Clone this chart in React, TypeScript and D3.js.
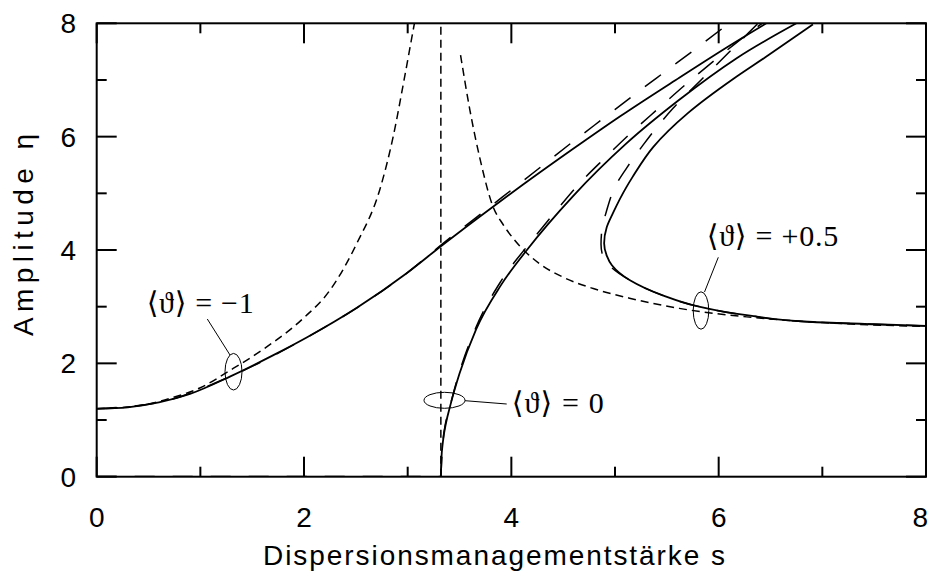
import React from "react";
import * as d3 from "d3";

// ---------- data ----------
const xTicksMajor = [0, 2, 4, 6, 8];
const xTicksMinor = [1, 3, 5, 7];
const yTicksMajor = [0, 2, 4, 6, 8];
const yTicksMinor = [1, 3, 5, 7];

// <theta> = -1, numerical (solid)
const sM1 = [0, 0.3, 0.6, 0.9, 1.29, 1.7, 2.03, 2.51, 2.99, 3.33, 3.82, 4.11, 4.6, 5.05, 5.62, 6.1, 6.46];
const eM1 = [1.2, 1.225, 1.31, 1.46, 1.77, 2.14, 2.46, 2.98, 3.59, 4.08, 4.76, 5.15, 5.79, 6.36, 7.04, 7.6, 8.0];
// <theta> = -1, approximation (long dashes)
const sM1Long = [0, 0.6, 1.29, 2.03, 2.51, 2.99, 3.33, 3.82, 4.1, 4.6, 4.9, 5.2, 5.5, 5.8, 6.1];
const eM1Long = [1.2, 1.31, 1.77, 2.46, 2.98, 3.59, 4.1, 4.8, 5.2, 5.92, 6.34, 6.76, 7.17, 7.58, 8.0];
// <theta> = -1, asymptotic (short dashes)
const sM1Short = [0, 0.4, 0.74, 1.0, 1.29, 1.64, 1.99, 2.25, 2.51, 2.73, 2.86, 2.96, 3.04, 3.065];
const eM1Short = [1.2, 1.25, 1.4, 1.57, 1.88, 2.29, 2.79, 3.29, 4.12, 5.06, 6.0, 6.95, 7.75, 8.0];

// <theta> = 0, numerical (solid)
const s0 = [3.32, 3.325, 3.34, 3.37, 3.41, 3.5, 3.66, 3.9, 4.15, 4.6, 5.11, 5.62, 6.17, 6.75];
const e0 = [0, 0.3, 0.62, 0.95, 1.25, 1.82, 2.6, 3.38, 4.0, 4.96, 5.88, 6.65, 7.38, 8.0];
// <theta> = 0, approximation (long dashes)
const s0Long = [3.32, 3.34, 3.41, 3.5, 3.66, 3.9, 4.15, 4.4, 4.63, 4.9, 5.15, 5.42, 5.7, 5.97, 6.2, 6.42];
const e0Long = [0, 0.62, 1.25, 1.85, 2.64, 3.45, 4.06, 4.62, 5.12, 5.62, 6.06, 6.5, 6.95, 7.36, 7.7, 8.0];
// <theta> = 0, asymptote (short dashes, vertical)
const s0Vert = [3.32, 3.32];
const e0Vert = [0, 8];
// trivial branch on eta = 0 (long dashes)
const sZero = [0, 3.32];
const eZero = [0, 0];

// <theta> = +0.5, numerical (solid), ordered by eta
const eP05 = [2.66, 2.69, 2.73, 2.85, 3.01, 3.2, 3.47, 3.73, 3.9, 4.12, 4.4, 4.65, 5.11, 5.29, 5.82, 6.41, 7.03, 7.4, 7.98];
const sP05 = [8.0, 7.5, 6.91, 6.27, 5.79, 5.46, 5.14, 4.97, 4.92, 4.895, 4.92, 4.98, 5.11, 5.17, 5.37, 5.7, 6.15, 6.45, 6.91];
// <theta> = +0.5, approximation (long dashes), ordered by eta
const eP05Long = [2.66, 2.69, 2.73, 2.85, 3.01, 3.2, 3.47, 3.7, 3.85, 4.1, 4.3, 4.7, 5.15, 5.44, 5.85, 6.27, 6.5, 7.0, 7.47, 8.0];
const sP05Long = [8.0, 7.5, 6.91, 6.27, 5.79, 5.46, 5.14, 4.96, 4.89, 4.865, 4.87, 4.92, 5.01, 5.11, 5.27, 5.45, 5.56, 5.83, 6.09, 6.38];
// <theta> = +0.5, asymptotic (short dashes)
const sP05Short = [3.51, 3.6, 3.7, 3.82, 3.92, 4.02, 4.27, 4.5, 4.79, 5.14, 5.62, 6.27, 7.0, 8.0];
const eP05Short = [7.44, 6.47, 5.59, 4.78, 4.45, 4.2, 3.76, 3.52, 3.32, 3.15, 2.97, 2.82, 2.72, 2.65];

// labels
const labelM1 = "⟨ϑ⟩ = −1";
const label0 = "⟨ϑ⟩ = 0";
const labelP05 = "⟨ϑ⟩ = +0.5";
const xTitle = "Dispersionsmanagementstärke s";
const yTitle = "Amplitude η";

// ---------- layout ----------
const W = 929;
const H = 571;
const x = d3.scaleLinear().domain([0, 8]).range([96.7, 926]);
const y = d3.scaleLinear().domain([0, 8]).range([476.7, 23.3]);

const zip = (a: number[], b: number[]) => a.map((v, i) => [v, b[i]] as [number, number]);
const lineX = d3
  .line<[number, number]>()
  .x((d) => x(d[0]))
  .y((d) => y(d[1]))
  .curve(d3.curveMonotoneX);
const lineY = d3
  .line<[number, number]>()
  .x((d) => x(d[0]))
  .y((d) => y(d[1]))
  .curve(d3.curveMonotoneY);

const SHORT = "8,5";
const LONG = "20,18";

export default function App() {
  const curves: { d: string; dash?: string; w: number }[] = [
    { d: lineX(zip(sZero, eZero)) || "", dash: LONG, w: 2 },
    { d: lineX(zip(sM1Short, eM1Short)) || "", dash: SHORT, w: 1.5 },
    { d: d3.line()(zip(s0Vert, e0Vert).map((p) => [x(p[0]), y(p[1])] as [number, number])) || "", dash: SHORT, w: 1.5 },
    { d: lineX(zip(sP05Short, eP05Short)) || "", dash: SHORT, w: 1.5 },
    { d: lineX(zip(sM1Long, eM1Long)) || "", dash: LONG, w: 1.5 },
    { d: lineX(zip(s0Long, e0Long)) || "", dash: LONG, w: 1.5 },
    { d: lineY(zip(sP05Long, eP05Long)) || "", dash: LONG, w: 1.5 },
    { d: lineX(zip(sM1, eM1)) || "", w: 1.8 },
    { d: lineX(zip(s0, e0)) || "", w: 1.8 },
    { d: lineY(zip(sP05, eP05)) || "", w: 1.8 },
  ];

  const [x0, x1] = x.range();
  const [y0, y1] = y.range();
  const serif = "'Liberation Serif', 'Times New Roman', 'DejaVu Serif', serif";
  const sans = "'Liberation Sans', Arial, Helvetica, sans-serif";

  return (
    <svg
      width={W}
      height={H}
      viewBox={`0 0 ${W} ${H}`}
      style={{ position: "absolute", left: 0, top: 0, background: "#fff" }}
    >
      <defs>
        <clipPath id="plot">
          <rect x={x0} y={y1} width={x1 - x0} height={y0 - y1} />
        </clipPath>
      </defs>

      <g clipPath="url(#plot)">
        {curves.map((c, i) => (
          <path key={i} d={c.d} fill="none" stroke="#000" strokeWidth={c.w} strokeDasharray={c.dash} />
        ))}
      </g>

      {/* frame */}
      <rect x={x0} y={y1} width={x1 - x0} height={y0 - y1} fill="none" stroke="#000" strokeWidth={2} />

      {/* ticks */}
      {xTicksMajor.map((t) => (
        <g key={"xM" + t}>
          <line x1={x(t)} x2={x(t)} y1={y0} y2={y0 - 20} stroke="#000" strokeWidth={2} />
          <line x1={x(t)} x2={x(t)} y1={y1} y2={y1 + 20} stroke="#000" strokeWidth={2} />
        </g>
      ))}
      {xTicksMinor.map((t) => (
        <g key={"xm" + t}>
          <line x1={x(t)} x2={x(t)} y1={y0} y2={y0 - 10} stroke="#000" strokeWidth={2} />
          <line x1={x(t)} x2={x(t)} y1={y1} y2={y1 + 10} stroke="#000" strokeWidth={2} />
        </g>
      ))}
      {yTicksMajor.map((t) => (
        <g key={"yM" + t}>
          <line x1={x0} x2={x0 + 20} y1={y(t)} y2={y(t)} stroke="#000" strokeWidth={2} />
          <line x1={x1} x2={x1 - 20} y1={y(t)} y2={y(t)} stroke="#000" strokeWidth={2} />
        </g>
      ))}
      {yTicksMinor.map((t) => (
        <g key={"ym" + t}>
          <line x1={x0} x2={x0 + 10} y1={y(t)} y2={y(t)} stroke="#000" strokeWidth={2} />
          <line x1={x1} x2={x1 - 10} y1={y(t)} y2={y(t)} stroke="#000" strokeWidth={2} />
        </g>
      ))}

      {/* tick labels */}
      {xTicksMajor.map((t, i) => {
        const last = i === xTicksMajor.length - 1;
        return (
          <text
            key={"xl" + t}
            x={last ? 928 : x(t)}
            y={526.5}
            textAnchor={last ? "end" : "middle"}
            fontFamily={sans}
            fontSize={28}
          >
            {t}
          </text>
        );
      })}
      {yTicksMajor.map((t) => (
        <text key={"yl" + t} x={76} y={y(t) + 10} textAnchor="end" fontFamily={sans} fontSize={28}>
          {t}
        </text>
      ))}

      {/* axis titles */}
      <text x={263} y={565} fontFamily={sans} fontSize={28} textLength={462} lengthAdjust="spacing">
        {xTitle}
      </text>
      <text
        transform="translate(33,336) rotate(-90)"
        x={0}
        y={0}
        fontFamily={sans}
        fontSize={28}
        textLength={202}
        lengthAdjust="spacing"
      >
        {yTitle}
      </text>

      {/* annotations */}
      <g fill="none" stroke="#000" strokeWidth={1}>
        <ellipse cx={233.5} cy={371.7} rx={8.5} ry={18.3} />
        <line x1={230} y1={355} x2={207.3} y2={319} />
        <ellipse cx={444.5} cy={400.3} rx={20.5} ry={8} />
        <line x1={465} y1={400.7} x2={506.7} y2={404} />
        <ellipse cx={701} cy={310.5} rx={7.8} ry={18.7} />
        <line x1={704.5} y1={292} x2={718.3} y2={257.3} />
      </g>
      <text x={146.7} y={312.5} fontFamily={serif} fontSize={30} textLength={107} lengthAdjust="spacing">
        {labelM1}
      </text>
      <text x={511.7} y={413} fontFamily={serif} fontSize={30} textLength={92} lengthAdjust="spacing">
        {label0}
      </text>
      <text x={706.7} y={246} fontFamily={serif} fontSize={30} textLength={131.5} lengthAdjust="spacing">
        {labelP05}
      </text>
    </svg>
  );
}
